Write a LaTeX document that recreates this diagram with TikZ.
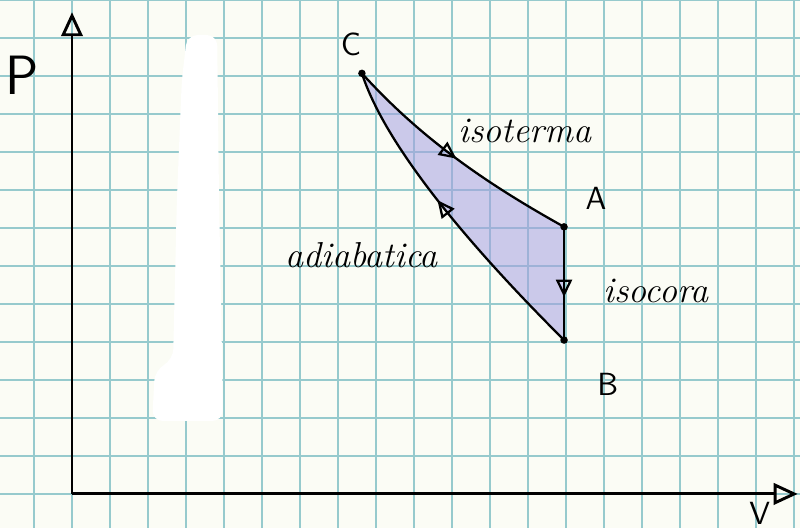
\documentclass[tikz,border=0pt]{standalone}
\usepackage{tikz}
\usetikzlibrary{arrows.meta, positioning, calc, decorations.markings}
\definecolor{paper}{RGB}{251,252,245}
\definecolor{gridcol}{RGB}{150,202,205}
\definecolor{cyclefill}{RGB}{165,160,225}

\begin{document}
\begin{tikzpicture}[
    x=0.5cm, y=0.5cm,
    gridline/.style={draw=gridcol, line width=0.5pt},
    axis/.style={line width=1.1pt, -{Triangle[open, length=9pt, width=8pt]}},
    curve/.style={line width=0.85pt},
    flow/.style={decoration={markings, mark=at position #1 with {\arrow{Triangle[open, length=6.5pt, width=6pt]}}},
                 postaction={decorate}},
    word/.style={font=\fontsize{13.5}{16}\selectfont\itshape, anchor=base west, inner xsep=0pt},
    letter/.style={font=\large\sffamily}
]
\path[use as bounding box, fill=paper] (-1.895,-0.895) rectangle (19.16,13);
\draw[gridline, step=0.5cm] (-2,-1) grid (20,14);
\fill[white, rounded corners=4pt] (3.03,12.08) -- (3.82,12.08) -- (3.87,7.74) -- (3.95,3.53)
    -- (3.97,1.92) -- (2.11,1.92) -- (2.18,3.26) -- (2.66,3.53) -- (2.76,7.74) -- (2.89,10.89) -- cycle;

\coordinate (O) at (0,0);
\coordinate (Ytip) at (0,12.68);
\coordinate (Xtip) at (19.1,0);
\coordinate (C) at (7.63,11.07);
\coordinate (A) at (12.95,7.03);
\coordinate (B) at (12.95,4.05);

\fill[cyclefill, fill opacity=0.55] (C) .. controls (9.24,9.29) and (11.03,8.10) .. (A) -- (B)
    .. controls (11.54,5.46) and (8.40,8.69) .. (C) -- cycle;

\draw[axis] (O) -- (Ytip);
\draw[axis] (O) -- (Xtip);

\draw[curve, flow=0.5] (C) .. controls (9.24,9.29) and (11.03,8.10) .. (A);
\draw[curve, flow=0.62] (A) -- (B);
\draw[curve, flow=0.56] (B) .. controls (11.54,5.46) and (8.40,8.69) .. (C);
\foreach \p in {A,B,C} \fill (\p) circle (1.4pt);

\node[letter] (lblC) at (7.34,11.82) {C};
\node[letter] (lblA) at (13.79,7.79) {A};
\node[letter] (lblB) at (14.1,2.89) {B};
\node[font=\huge\sffamily] (lblP) at (-1.32,11.03) {P};
\node[letter] (lblV) at (18.1,-0.5) {V};

\node[word] (iso) at (10.16,9.24) {isoterma};
\node[word] (adia) at (5.6,5.97) {adiabatica};
\node[word] (isoc) at (13.97,5.03) {isocora};
\end{tikzpicture}
\end{document}
